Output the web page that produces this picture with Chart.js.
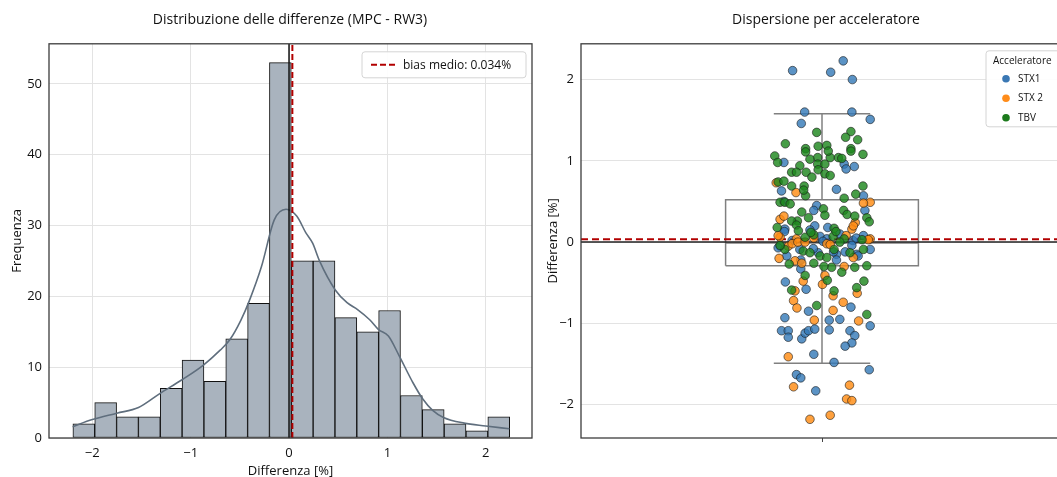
<!DOCTYPE html>
<html><head><meta charset="utf-8">
<script src="https://cdn.jsdelivr.net/npm/chart.js@4.4.1/dist/chart.umd.min.js"></script>
<style>
html,body{margin:0;padding:0;background:#fff;overflow:hidden;width:1057px;height:477px;position:relative;}
#c1{position:absolute;left:0;top:0;width:580px;height:477px;}
#c2{position:absolute;left:540px;top:0;width:572px;height:477px;}
</style></head><body>
<canvas id="c1" width="580" height="477"></canvas>
<canvas id="c2" width="572" height="477"></canvas>
<script>
// ---------- data: histogram ----------
const histBinCenters = [-2.086,-1.864,-1.642,-1.420,-1.198,-0.976,-0.754,-0.532,-0.310,-0.088,0.134,0.356,0.578,0.800,1.022,1.244,1.466,1.688,1.910,2.132];
const histCounts = [2,5,3,3,7,11,8,14,19,53,25,25,17,15,18,6,4,2,1,3];
const kdeX = [-2.20,-2.00,-1.75,-1.53,-1.31,-1.08,-0.87,-0.70,-0.60,-0.49,-0.40,-0.28,-0.15,-0.03,0.08,0.17,0.24,0.31,0.47,0.59,0.70,0.82,0.91,1.01,1.12,1.26,1.36,1.46,1.57,1.78,2.00,2.24];
const kdeY = [1.6,2.6,3.5,4.3,6.3,8.3,10.3,12.4,13.9,16.6,19.5,24.2,30.8,32.3,31.3,29.0,27.5,25.0,20.9,19.1,18.1,16.7,15.3,14.4,11.6,7.8,5.5,3.9,2.9,2.1,1.7,1.3];
const biasMean = 0.034;
const histXTicks = [-2,-1,0,1,2];
const histYTicks = [0,10,20,30,40,50];

// ---------- data: strip / box ----------
const boxStats = [-1.49,-0.29,-0.01,0.52,1.58]; // low whisker, q1, median, q3, high whisker
const stripYTicks = [-2,-1,0,1,2];
const groups = ['STX1','STX 2','TBV'];
const stx1X = [-0.061,0.018,0.044,0.063,-0.036,0.062,0.100,-0.043,-0.079,0.046,0.067,0.050,-0.084,0.030,0.086,-0.079,-0.011,-0.017,0.089,-0.077,-0.015,-0.004,0.010,0.064,0.086,-0.087,0.002,0.071,0.100,-0.091,-0.046,-0.008,0.030,0.072,-0.073,-0.044,-0.076,-0.033,-0.028,0.060,-0.077,0.015,0.037,0.100,-0.084,-0.070,-0.070,-0.042,-0.035,-0.028,-0.015,0.058,0.068,0.062,0.048,-0.017,0.025,0.098,-0.053,-0.044,-0.013,0.015,-0.078,-0.044,-0.018,0.024,0.030,0.048,0.062,0.075,-0.062,0.037,-0.025,0.012];
const stx1Y = [2.11,2.09,2.23,2.00,1.60,1.60,1.51,1.46,0.98,0.96,0.93,0.90,0.63,0.65,0.57,0.50,0.45,0.39,0.39,0.16,0.20,0.07,0.04,0.02,0.08,-0.05,0.01,0.05,-0.09,-0.07,-0.09,-0.13,-0.15,-0.15,-0.17,-0.33,-0.49,-0.58,-0.85,-0.80,-0.93,-0.96,-0.95,-1.03,-1.09,-1.09,-1.17,-1.19,-1.12,-1.09,-1.07,-1.09,-1.15,-1.24,-1.28,-1.38,-1.48,-1.57,-1.63,-1.67,-1.83,-1.08,0.13,-0.22,-0.08,-0.12,-0.22,-0.12,-0.04,-0.17,0.02,0.10,0.15,0.18];
const stx2X = [-0.095,-0.054,0.100,0.086,0.069,-0.087,-0.079,0.062,0.065,-0.087,-0.053,0.100,-0.070,-0.091,-0.062,-0.050,-0.035,0.010,0.096,0.065,-0.089,-0.056,-0.042,0.046,0.006,-0.039,0.001,-0.056,0.023,0.073,-0.059,-0.052,0.023,0.044,-0.016,0.076,-0.070,-0.059,0.057,0.051,0.062,-0.025,0.017,-0.017,0.017,0.050];
const stx2Y = [0.73,0.61,0.49,0.48,0.24,0.28,0.32,0.16,0.20,0.06,0.04,0.04,-0.05,0.08,-0.02,0.00,0.00,-0.02,0.03,-0.19,-0.20,-0.23,-0.26,-0.30,-0.41,-0.48,-0.52,-0.60,-0.66,-0.63,-0.72,-0.81,-0.84,-0.74,-0.96,-0.97,-1.41,-1.78,-1.76,-1.93,-1.95,-2.18,-2.13,0.05,-0.03,0.08];
const tbvX = [-0.011,0.060,0.049,0.074,-0.076,-0.034,-0.008,0.010,0.060,-0.098,-0.034,-0.009,-0.009,0.006,0.017,0.034,0.060,0.085,-0.063,-0.046,-0.033,-0.008,0.006,-0.053,-0.091,-0.079,-0.063,-0.037,-0.034,0.046,0.070,0.085,-0.087,-0.077,0.003,0.006,-0.042,-0.028,-0.051,0.045,0.052,0.068,0.093,0.098,-0.093,-0.063,-0.053,-0.049,0.025,-0.035,-0.017,0.023,0.046,-0.077,-0.023,0.025,0.037,0.086,-0.039,-0.025,-0.004,0.010,0.058,-0.068,-0.017,0.020,0.041,0.068,0.093,-0.035,0.011,-0.063,0.025,0.072,0.087,-0.011,0.093,0.029,0.083,-0.092,0.013,0.041,-0.025,-0.021,0.017,-0.038,-0.066,-0.087,0.004];
const tbvY = [1.35,1.36,1.29,1.26,1.21,1.15,1.18,1.19,1.15,1.06,1.11,1.04,0.96,0.96,1.04,1.04,1.12,1.08,0.86,0.94,0.86,0.89,0.84,0.86,0.74,0.75,0.69,0.69,0.57,0.54,0.59,0.69,0.49,0.49,0.41,0.33,0.37,0.30,0.26,0.39,0.34,0.32,0.30,0.25,0.18,0.26,0.21,0.14,0.17,0.06,0.09,0.07,0.04,-0.09,0.12,-0.09,0.00,-0.09,-0.11,-0.13,-0.17,-0.19,-0.13,-0.27,-0.26,-0.31,-0.37,-0.31,-0.29,-0.41,-0.47,-0.59,-0.60,-0.56,-0.48,-0.78,-0.89,0.13,0.03,0.98,1.12,1.03,1.02,0.80,0.82,0.64,0.47,-0.04,-0.30];

// ---------- styling ----------
const FONT = "'Open Sans', 'DejaVu Sans', sans-serif";
Chart.defaults.font.family = FONT;
Chart.defaults.color = '#111';
const TXT = '#111';
const GRID = '#e3e3e3';
const RED = '#b20000';
const fmtMinus = v => String(v).replace('-', '\u2212');
const pts = (xs, ys) => xs.map((x, i) => ({x, y: ys[i]}));

const framePlugin = {
  id: 'frame',
  afterDraw(chart) {
    const {ctx, chartArea: a} = chart;
    ctx.save();
    ctx.strokeStyle = '#3c3c3c';
    ctx.lineWidth = 1.3;
    ctx.strokeRect(a.left, a.top, a.right - a.left, a.bottom - a.top);
    ctx.restore();
  }
};
function roundRect(ctx, x, y, w, h, r) {
  ctx.beginPath();
  ctx.moveTo(x + r, y);
  ctx.lineTo(x + w - r, y); ctx.quadraticCurveTo(x + w, y, x + w, y + r);
  ctx.lineTo(x + w, y + h - r); ctx.quadraticCurveTo(x + w, y + h, x + w - r, y + h);
  ctx.lineTo(x + r, y + h); ctx.quadraticCurveTo(x, y + h, x, y + h - r);
  ctx.lineTo(x, y + r); ctx.quadraticCurveTo(x, y, x + r, y);
  ctx.closePath();
}
const dummyRight = w => ({position: 'right', display: true, grid: {display: false}, ticks: {display: false}, border: {display: false}, afterFit: s => { s.width = w; }});

// ---------- left chart ----------
const histMax = 55.65;
new Chart(document.getElementById('c1'), {
  type: 'bar',
  data: {
    datasets: [
      {type: 'bar', data: pts(histBinCenters, histCounts), backgroundColor: '#a9b3be', borderColor: '#111', borderWidth: 1, borderSkipped: false, barPercentage: 1, categoryPercentage: 1, order: 4},
      {type: 'line', data: pts(kdeX, kdeY), borderColor: '#5f6e7d', borderWidth: 1.6, pointRadius: 0, cubicInterpolationMode: 'monotone', fill: false, order: 3},
      {type: 'line', data: [{x: 0, y: 0}, {x: 0, y: histMax}], borderColor: '#111', borderWidth: 1.5, pointRadius: 0, order: 2},
      {type: 'line', data: [{x: biasMean, y: 0}, {x: biasMean, y: histMax}], borderColor: RED, borderWidth: 2, borderDash: [6, 3], pointRadius: 0, order: 1}
    ]
  },
  options: {
    responsive: false, animation: false, events: [],
    layout: {padding: 0},
    plugins: {
      legend: {display: false}, tooltip: {enabled: false},
      title: {display: true, text: 'Distribuzione delle differenze (MPC - RW3)', color: TXT, font: {size: 14, weight: 'normal'}, padding: {top: 12, bottom: 15}}
    },
    scales: {
      x: {type: 'linear', min: -2.44, max: 2.47, offset: false,
          afterBuildTicks: s => { s.ticks = histXTicks.map(v => ({value: v})); },
          afterFit: s => { s.height = 39; },
          grid: {color: GRID, drawTicks: false, offset: false}, border: {display: false},
          ticks: {padding: 7, color: TXT, font: {size: 13}, callback: v => fmtMinus(v)},
          title: {display: true, text: 'Differenza [%]', color: TXT, font: {size: 13}, padding: {top: 0, bottom: -2}}},
      y: {min: 0, max: histMax,
          afterBuildTicks: s => { s.ticks = histYTicks.map(v => ({value: v})); },
          afterFit: s => { s.width = 49; },
          grid: {color: GRID, drawTicks: false}, border: {display: false},
          ticks: {padding: 7, color: TXT, font: {size: 13}},
          title: {display: true, text: 'Frequenza', color: TXT, font: {size: 13}, padding: {top: 9, bottom: 0}}},
      y2: dummyRight(48)
    }
  },
  plugins: [framePlugin, {
    id: 'biasLegend',
    afterDraw(chart) {
      const {ctx, chartArea: a} = chart;
      const w = 164, h = 26, x = a.right - 6 - w, y = a.top + 8;
      ctx.save();
      roundRect(ctx, x, y, w, h, 3);
      ctx.fillStyle = 'rgba(255,255,255,0.9)'; ctx.fill();
      ctx.strokeStyle = '#d4d4d4'; ctx.lineWidth = 1; ctx.stroke();
      ctx.strokeStyle = RED; ctx.lineWidth = 2; ctx.setLineDash([6, 3]);
      ctx.beginPath(); ctx.moveTo(x + 9, y + h / 2); ctx.lineTo(x + 34, y + h / 2); ctx.stroke();
      ctx.setLineDash([]);
      ctx.fillStyle = TXT; ctx.font = '12px ' + FONT; ctx.textBaseline = 'middle'; ctx.textAlign = 'left';
      ctx.fillText('bias medio: ' + biasMean.toFixed(3) + '%', x + 41, y + h / 2 + 0.5);
      ctx.restore();
    }
  }]
});

// ---------- right chart ----------
const BOXC = '#808080';
const boxHalf = 0.2, capHalf = 0.1;
const [wLo, q1, med, q3, wHi] = boxStats;
const seriesColors = ['rgba(50,120,182,0.8)', 'rgba(255,140,20,0.82)', 'rgba(30,135,30,0.82)'];
const legendColors = ['#3a78b4', '#ff8c1a', '#1c7a1c'];
const lineDs = (data, color, width, order, dash) => ({type: 'scatter', data, showLine: true, borderColor: color, borderWidth: width, pointRadius: 0, borderDash: dash || [], order, fill: false});
const scatterDs = (label, xs, ys, i) => ({type: 'scatter', label, data: pts(xs, ys), backgroundColor: seriesColors[i], borderColor: 'rgba(25,25,25,0.75)', borderWidth: 0.8, pointRadius: 4.3, order: 3 - i});

new Chart(document.getElementById('c2'), {
  type: 'scatter',
  data: {
    datasets: [
      lineDs([{x: -boxHalf, y: q1}, {x: boxHalf, y: q1}, {x: boxHalf, y: q3}, {x: -boxHalf, y: q3}, {x: -boxHalf, y: q1}], BOXC, 1.5, 30),
      lineDs([{x: -boxHalf, y: med}, {x: boxHalf, y: med}], BOXC, 1.5, 29),
      lineDs([{x: 0, y: q3}, {x: 0, y: wHi}], BOXC, 1.5, 28),
      lineDs([{x: 0, y: q1}, {x: 0, y: wLo}], BOXC, 1.5, 27),
      lineDs([{x: -capHalf, y: wHi}, {x: capHalf, y: wHi}], BOXC, 1.5, 26),
      lineDs([{x: -capHalf, y: wLo}, {x: capHalf, y: wLo}], BOXC, 1.5, 25),
      lineDs([{x: -0.5, y: 0}, {x: 0.5, y: 0}], '#222', 1.5, 21),
      lineDs([{x: -0.5, y: biasMean}, {x: 0.5, y: biasMean}], RED, 2, 20, [7, 4]),
      scatterDs(groups[0], stx1X, stx1Y, 0),
      scatterDs(groups[1], stx2X, stx2Y, 1),
      scatterDs(groups[2], tbvX, tbvY, 2)
    ]
  },
  options: {
    responsive: false, animation: false, events: [],
    layout: {padding: 0},
    plugins: {
      legend: {display: false}, tooltip: {enabled: false},
      title: {display: true, text: 'Dispersione per acceleratore', color: TXT, font: {size: 14, weight: 'normal'}, padding: {top: 12, bottom: 15}}
    },
    scales: {
      x: {type: 'linear', min: -0.5, max: 0.5,
          afterBuildTicks: s => { s.ticks = [{value: 0}]; },
          afterFit: s => { s.height = 39; },
          grid: {display: true, drawOnChartArea: false, drawTicks: true, tickLength: 4, tickColor: '#444', tickWidth: 1},
          border: {display: false},
          ticks: {callback: () => '', padding: 0}},
      y: {min: -2.41, max: 2.44,
          afterBuildTicks: s => { s.ticks = stripYTicks.map(v => ({value: v})); },
          afterFit: s => { s.width = 41; },
          grid: {color: GRID, drawTicks: false}, border: {display: false},
          ticks: {padding: 7, color: TXT, font: {size: 13}, callback: v => fmtMinus(v)},
          title: {display: true, text: 'Differenza [%]', color: TXT, font: {size: 13}, padding: {top: 5, bottom: 0}}},
      y2: dummyRight(49)
    }
  },
  plugins: [framePlugin, {
    id: 'groupLegend',
    afterDraw(chart) {
      const {ctx, chartArea: a} = chart;
      const x = a.right - 77, y = a.top + 7, w = 90, h = 76;
      ctx.save();
      roundRect(ctx, x, y, w, h, 3);
      ctx.fillStyle = 'rgba(255,255,255,0.9)'; ctx.fill();
      ctx.strokeStyle = '#d4d4d4'; ctx.lineWidth = 1; ctx.stroke();
      ctx.fillStyle = TXT; ctx.font = '10px ' + FONT; ctx.textBaseline = 'middle'; ctx.textAlign = 'left';
      ctx.fillText('Acceleratore', x + 7, y + 10);
      groups.forEach((g, i) => {
        const cy = y + 28 + i * 19.5;
        ctx.beginPath(); ctx.arc(x + 20, cy, 3.8, 0, Math.PI * 2);
        ctx.fillStyle = legendColors[i]; ctx.fill();
        ctx.fillStyle = TXT; ctx.font = '10px ' + FONT;
        ctx.fillText(g, x + 32, cy);
      });
      ctx.restore();
    }
  }]
});
</script>
</body></html>
